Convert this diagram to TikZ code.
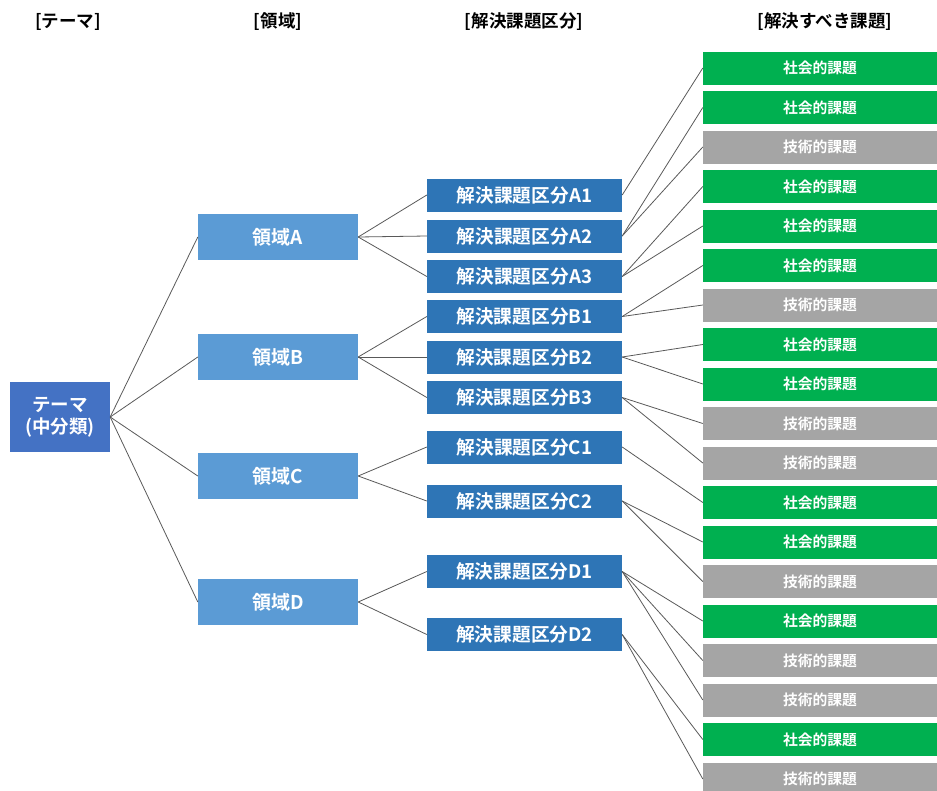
\documentclass[tikz,border=0pt]{standalone}
\usepackage{fontspec}
\setmainfont{Noto Sans CJK JP}[BoldFont={Noto Sans CJK JP Bold}]
\usetikzlibrary{calc}
\definecolor{themeblue}{HTML}{4472C4}
\definecolor{areablue}{HTML}{5B9BD5}
\definecolor{kubunblue}{HTML}{2E75B6}
\definecolor{shakaigreen}{HTML}{00B050}
\definecolor{gijutsugray}{HTML}{A5A5A5}
\definecolor{linegray}{HTML}{595959}

\begin{document}
\begin{tikzpicture}[x=1pt,y=-1pt,
    box/.style={inner sep=0pt, text=white, align=center},
    head/.style={font=\bfseries\fontsize{17.5}{20}\selectfont},
    theme/.style={box, fill=themeblue, minimum width=100pt, minimum height=70pt, font=\bfseries\fontsize{18.5}{22}\selectfont},
    area/.style={box, fill=areablue, minimum width=160pt, minimum height=46pt, font=\bfseries\fontsize{19}{21}\selectfont},
    kubun/.style={box, fill=kubunblue, minimum width=195pt, minimum height=33pt, font=\bfseries\fontsize{18.7}{20}\selectfont},
    shakai/.style={box, fill=shakaigreen, minimum width=234pt, minimum height=33pt, font=\bfseries\fontsize{14.8}{16}\selectfont},
    gijutsu/.style={shakai, fill=gijutsugray},
    link/.style={linegray, line width=0.8pt}]
                \useasboundingbox (0,0) rectangle (937,790);

                \node [head] (h1) at (68,22) {[テーマ]};
                \node [head] (h2) at (278,22) {[領域]};
                \node [head] (h3) at (524,22) {[解決課題区分]};
                \node [head] (h4) at (825,22) {[解決すべき課題]};

                \node [theme] (t) at (60,417) {テーマ\\(中分類)};

                \foreach \d/\y in {A/237,B/357,C/476,D/602}
                    \node [area] (r\d) at (278,\y) {領域\d};

                \foreach \k/\y in {A1/195,A2/236,A3/276.5,B1/316.5,B2/357,B3/397.5,C1/447,C2/501,D1/571.5,D2/634.5}
                    \node [kubun] (k\k) at (524.5,\y) {解決課題区分\k};

                \foreach \n/\s/\c in {1/shakai/社会的課題,2/shakai/社会的課題,3/gijutsu/技術的課題,
                        4/shakai/社会的課題,5/shakai/社会的課題,6/shakai/社会的課題,7/gijutsu/技術的課題,
                        8/shakai/社会的課題,9/shakai/社会的課題,10/gijutsu/技術的課題,11/gijutsu/技術的課題,
                        12/shakai/社会的課題,13/shakai/社会的課題,14/gijutsu/技術的課題,15/shakai/社会的課題,
                        16/gijutsu/技術的課題,17/gijutsu/技術的課題,18/shakai/社会的課題,19/gijutsu/技術的課題}
                    \node [\s] (p\n) at (820,{68+(\n-1)*39.5}) {\c};

                \foreach \d in {A,B,C,D}
                    \draw [link] (t.east) -- (r\d.west);
                \foreach \d/\k in {A/A1,A/A2,A/A3,B/B1,B/B2,B/B3,C/C1,C/C2,D/D1,D/D2}
                    \draw [link] (r\d.east) -- (k\k.west);
                \foreach \k/\n in {A1/1,A2/2,A2/3,A3/4,A3/5,B1/6,B1/7,B2/8,B2/9,B3/10,B3/11,
                        C1/12,C2/13,C2/14,D1/15,D1/16,D1/17,D2/18,D2/19}
                    \draw [link] (k\k.east) -- (p\n.west);
            \end{tikzpicture}
\end{document}
